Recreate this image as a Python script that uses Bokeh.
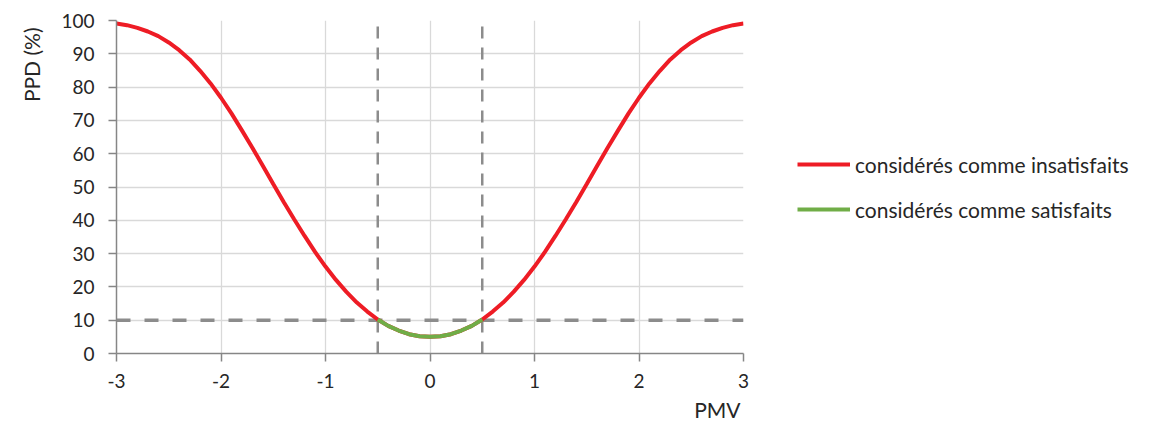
import math
from bokeh.plotting import figure
from bokeh.models import (Legend, LegendItem, Title, FixedTicker, Range1d,
                          CustomJSTickFormatter)
from bokeh.embed import file_html
from bokeh.resources import INLINE

# PMV values (x) and PPD values (%)
pmv = [-3.0, -2.9, -2.8, -2.7, -2.6, -2.5, -2.4, -2.3, -2.2, -2.1, -2.0,
       -1.9, -1.8, -1.7, -1.6, -1.5, -1.4, -1.3, -1.2, -1.1, -1.0,
       -0.9, -0.8, -0.7, -0.6, -0.5, -0.4, -0.3, -0.2, -0.1, 0.0,
       0.1, 0.2, 0.3, 0.4, 0.5, 0.6, 0.7, 0.8, 0.9, 1.0,
       1.1, 1.2, 1.3, 1.4, 1.5, 1.6, 1.7, 1.8, 1.9, 2.0,
       2.1, 2.2, 2.3, 2.4, 2.5, 2.6, 2.7, 2.8, 2.9, 3.0]
ppd = [99.1, 98.6, 97.8, 96.7, 95.3, 93.4, 91.1, 88.3, 84.9, 81.1, 76.8,
       72.1, 67.0, 61.8, 56.4, 50.9, 45.5, 40.3, 35.3, 30.5, 26.1,
       22.1, 18.5, 15.3, 12.6, 10.2, 8.3, 6.9, 5.8, 5.2, 5.0,
       5.2, 5.8, 6.9, 8.3, 10.2, 12.6, 15.3, 18.5, 22.1, 26.1,
       30.5, 35.3, 40.3, 45.5, 50.9, 56.4, 61.8, 67.0, 72.1, 76.8,
       81.1, 84.9, 88.3, 91.1, 93.4, 95.3, 96.7, 97.8, 98.6, 99.1]

comfort_low, comfort_high = -0.5, 0.5
ppd_limit = 10
x_ticks = [-3, -2, -1, 0, 1, 2, 3]
y_ticks = [0, 10, 20, 30, 40, 50, 60, 70, 80, 90, 100]
label_red = "considérés comme insatisfaits"
label_green = "considérés comme satisfaits"
x_title = "PMV"
y_title = "PPD (%)"

FONT = "Lato"
TXT = "#262626"
FS_TICK = "19px"
FS = "21px"

p = figure(width=1150, height=424, frame_width=627, frame_height=333,
           min_border_left=116, min_border_top=20, min_border_right=407,
           output_backend="svg", toolbar_location=None,
           x_range=Range1d(-3, 3), y_range=Range1d(0, 100))
p.outline_line_color = None
p.background_fill_color = "white"

for ax in (p.xaxis[0], p.yaxis[0]):
    ax.axis_line_color = "#868686"
    ax.axis_line_width = 1.5
    ax.major_tick_line_color = "#868686"
    ax.major_tick_line_width = 1.5
    ax.major_tick_out = 8
    ax.major_tick_in = 0
    ax.minor_tick_line_color = None
    ax.major_label_text_font = FONT
    ax.major_label_text_font_size = FS_TICK
    ax.major_label_text_color = TXT
    ax.formatter = CustomJSTickFormatter(code="return tick.toString();")
p.xaxis.ticker = FixedTicker(ticks=x_ticks)
p.yaxis.ticker = FixedTicker(ticks=y_ticks)
p.xaxis.major_label_standoff = 12
p.yaxis.major_label_standoff = 14
p.xgrid.ticker = FixedTicker(ticks=x_ticks)
p.ygrid.ticker = FixedTicker(ticks=y_ticks)
p.xgrid.grid_line_color = "#d9d9d9"
p.ygrid.grid_line_color = "#d9d9d9"
p.xgrid.grid_line_width = 1.3
p.ygrid.grid_line_width = 1.3

dash_col = "#8c8c8c"
p.line([-3, 3], [ppd_limit, ppd_limit], line_color=dash_col, line_width=3.5, line_dash="14 14")
for xv in (comfort_low, comfort_high):
    p.line([xv, xv], [0, 100], line_color=dash_col, line_width=2.5, line_dash="12 9")

red = p.line(pmv, ppd, line_color="#ee1c25", line_width=4)
gx = [x for x in pmv if comfort_low <= x <= comfort_high]
gy = [y for x, y in zip(pmv, ppd) if comfort_low <= x <= comfort_high]
green = p.line(gx, gy, line_color="#70ad47", line_width=4)

legend = Legend(items=[LegendItem(label=label_red, renderers=[red]),
                       LegendItem(label=label_green, renderers=[green])],
                location="center_left")
legend.background_fill_alpha = 0
legend.border_line_color = None
legend.padding = 0
legend.margin = 54
legend.glyph_width = 53
legend.glyph_height = 20
legend.label_height = 20
legend.spacing = 20
legend.label_standoff = 5
legend.label_text_font = FONT
legend.label_text_font_size = FS
legend.label_text_color = TXT
p.add_layout(legend, "right")

p.add_layout(Title(text=x_title, align="right", text_font=FONT, text_font_size=FS,
                   text_font_style="normal", text_color=TXT, standoff=9, offset=3), "below")
p.add_layout(Title(text=y_title, align="right", text_font=FONT, text_font_size=FS,
                   text_font_style="normal", text_color=TXT, standoff=30, offset=7), "left")

open("out.html", "w").write(file_html(p, INLINE))
